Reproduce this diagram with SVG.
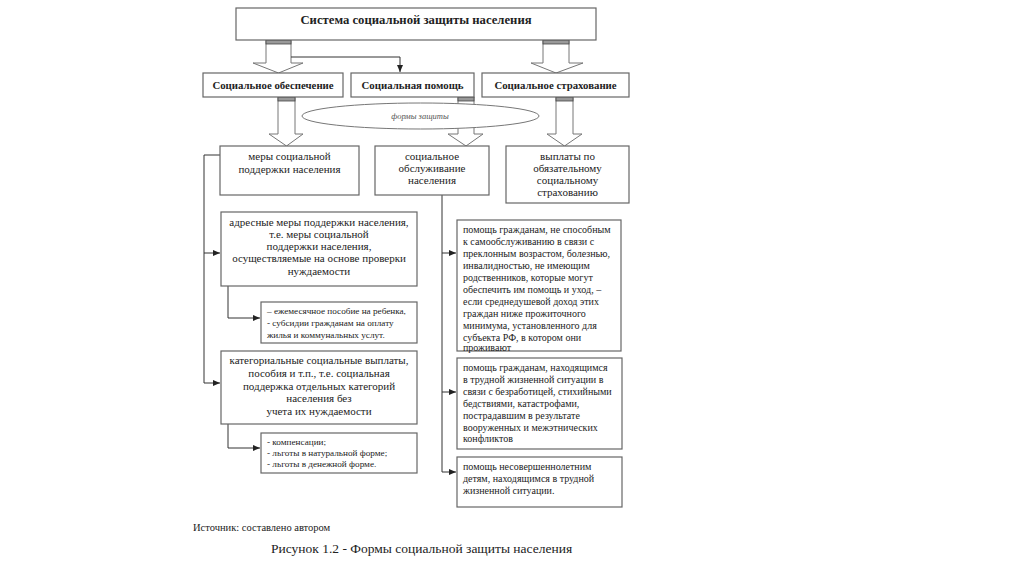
<svg xmlns="http://www.w3.org/2000/svg" width="1024" height="576" viewBox="0 0 1024 576">
<style>
.box{fill:#fff;stroke:#666;stroke-width:1.2}
.barrow{fill:#fff;stroke:#777;stroke-width:1}
.band{fill:#999;stroke:#444;stroke-width:0.8}
.ln{fill:none;stroke:#333;stroke-width:1}
text{font-family:"Liberation Serif","Times New Roman",serif;fill:#222}
.t{font-size:12.7px;font-weight:bold;text-anchor:middle}
.h{font-size:10.8px;font-weight:bold;text-anchor:middle}
.m{font-size:11px;text-anchor:middle}
.s{font-size:9.2px}
.r{font-size:10px}
</style>
<defs>
<marker id="ah" markerWidth="8" markerHeight="8" refX="7" refY="4" orient="auto" markerUnits="userSpaceOnUse">
<path d="M0,1 L7,4 L0,7 Z" fill="#222"/>
</marker>
</defs>
<rect width="1024" height="576" fill="#fff"/>

<g id="connectors">
<polygon class="barrow" points="266,40 291,40 291,63 303,63 278.5,73 253,63 266,63"/>
<rect class="band" x="266" y="40" width="25" height="4"/>
<polygon class="barrow" points="543,40 569,40 569,63 583,63 556,73 531,63 543,63"/>
<rect class="band" x="543" y="40" width="26" height="4"/>
<polygon class="barrow" points="278,97 295,97 295,134 303,134 286.5,146 269,134 278,134"/>
<rect class="band" x="278" y="97" width="17" height="4"/>
<polygon class="barrow" points="458,97 474,97 474,134 483,134 466,146 448,134 458,134"/>
<rect class="band" x="458" y="97" width="16" height="4"/>
<polygon class="barrow" points="556,97 573,97 573,134 582,134 564.5,146 547,134 556,134"/>
<rect class="band" x="556" y="97" width="17" height="4"/>
<path class="ln" d="M291,57 H400 V72" marker-end="url(#ah)"/>
<path class="ln" d="M220,155 H204 V383"/>
<path class="ln" d="M204,253 H220" marker-end="url(#ah)"/>
<path class="ln" d="M204,383 H220" marker-end="url(#ah)"/>
<path class="ln" d="M228,286 V318 H260" marker-end="url(#ah)"/>
<path class="ln" d="M228,424 V448 H260" marker-end="url(#ah)"/>
<path class="ln" d="M442,195 V472"/>
<path class="ln" d="M442,253 H456" marker-end="url(#ah)"/>
<path class="ln" d="M442,392 H456" marker-end="url(#ah)"/>
<path class="ln" d="M442,472 H456" marker-end="url(#ah)"/>
</g>

<g id="n-system">
<rect class="box" x="236" y="8" width="360" height="32"/>
<text class="t" x="416" y="24">Система социальной защиты населения</text>
</g>
<g id="n-obesp">
<rect class="box" x="203" y="73" width="140" height="24"/>
<text class="h" x="273" y="88.5">Социальное обеспечение</text>
</g>
<g id="n-pomosh">
<rect class="box" x="351" y="73" width="123" height="24"/>
<text class="h" x="412.5" y="88.5">Социальная помощь</text>
</g>
<g id="n-strah">
<rect class="box" x="482" y="73" width="147" height="24"/>
<text class="h" x="555.5" y="88.5">Социальное страхование</text>
</g>
<g id="n-formy">
<ellipse cx="420.5" cy="116" rx="118.5" ry="13" fill="#fff" stroke="#777" stroke-width="1"/>
<text x="420" y="119" style="font-size:8.5px;font-style:italic;text-anchor:middle;fill:#555">формы защиты</text>
</g>

<g id="n-mery">
<rect class="box" x="220" y="146" width="139" height="49"/>
<text class="m" x="289.5" y="160">меры социальной</text>
<text class="m" x="289.5" y="173">поддержки населения</text>
</g>
<g id="n-obsl">
<rect class="box" x="375" y="146" width="114" height="49"/>
<text class="m" x="432" y="160">социальное</text>
<text class="m" x="432" y="172">обслуживание</text>
<text class="m" x="432" y="184">населения</text>
</g>
<g id="n-vypl">
<rect class="box" x="506" y="146" width="123" height="57"/>
<text class="m" x="567.5" y="160">выплаты по</text>
<text class="m" x="567.5" y="172">обязательному</text>
<text class="m" x="567.5" y="184">социальному</text>
<text class="m" x="567.5" y="196">страхованию</text>
</g>

<g id="n-adres">
<rect class="box" x="221" y="212" width="196" height="74"/>
<text class="m" x="319" y="226">адресные меры поддержки населения,</text>
<text class="m" x="319" y="238">т.е. меры социальной</text>
<text class="m" x="319" y="250">поддержки населения,</text>
<text class="m" x="319" y="262">осуществляемые на основе проверки</text>
<text class="m" x="319" y="275">нуждаемости</text>
</g>
<g id="n-ezhemes">
<rect class="box" x="261" y="302" width="156" height="41"/>
<text class="s" x="267" y="314">–  ежемесячное пособие на ребенка,</text>
<text class="s" x="267" y="326">- субсидии гражданам на оплату</text>
<text class="s" x="267" y="338">жилья и коммунальных услут.</text>
</g>
<g id="n-kateg">
<rect class="box" x="221" y="351" width="196" height="73"/>
<text class="m" x="319" y="364">категориальные социальные выплаты,</text>
<text class="m" x="319" y="377">пособия и т.п., т.е. социальная</text>
<text class="m" x="319" y="390">поддержка отдельных категорий</text>
<text class="m" x="319" y="402">населения без</text>
<text class="m" x="319" y="415">учета их нуждаемости</text>
</g>
<g id="n-komp">
<rect class="box" x="261" y="433" width="156" height="40"/>
<text class="s" x="267" y="445">- компенсации;</text>
<text class="s" x="267" y="456">- льготы в натуральной форме;</text>
<text class="s" x="267" y="467">- льготы в денежной форме.</text>
</g>

<g id="n-pom1">
<rect class="box" x="457" y="220" width="164" height="131"/>
<text class="r" x="463" y="233">помощь гражданам, не способным</text>
<text class="r" x="463" y="245">к самообслуживанию в связи с</text>
<text class="r" x="463" y="257">преклонным возрастом, болезнью,</text>
<text class="r" x="463" y="269">инвалидностью, не имеющим</text>
<text class="r" x="463" y="281">родственников, которые могут</text>
<text class="r" x="463" y="293">обеспечить им помощь и уход, –</text>
<text class="r" x="463" y="305">если среднедушевой  доход этих</text>
<text class="r" x="463" y="317">граждан ниже прожиточного</text>
<text class="r" x="463" y="329">минимума,  установленного для</text>
<text class="r" x="463" y="341">субъекта РФ, в  котором они</text>
<text class="r" x="463" y="351">проживают</text>
</g>
<g id="n-pom2">
<rect class="box" x="457" y="358" width="165" height="91"/>
<text class="r" x="463" y="371">помощь гражданам, находящимся</text>
<text class="r" x="463" y="383">в трудной жизненной ситуации в</text>
<text class="r" x="463" y="395">связи с безработицей, стихийными</text>
<text class="r" x="463" y="407">бедствиями, катастрофами,</text>
<text class="r" x="463" y="419">пострадавшим в результате</text>
<text class="r" x="463" y="431">вооруженных и межэтнических</text>
<text class="r" x="463" y="442">конфликтов</text>
</g>
<g id="n-pom3">
<rect class="box" x="457" y="457" width="165" height="50"/>
<text class="r" x="463" y="470">помощь несовершеннолетним</text>
<text class="r" x="463" y="482">детям,  находящимся в трудной</text>
<text class="r" x="463" y="494">жизненной ситуации.</text>
</g>

<text x="193" y="531" style="font-size:10.5px">Источник: составлено автором</text>
<text x="271" y="553" style="font-size:13.5px">Рисунок 1.2 - Формы социальной защиты населения</text>
</svg>
